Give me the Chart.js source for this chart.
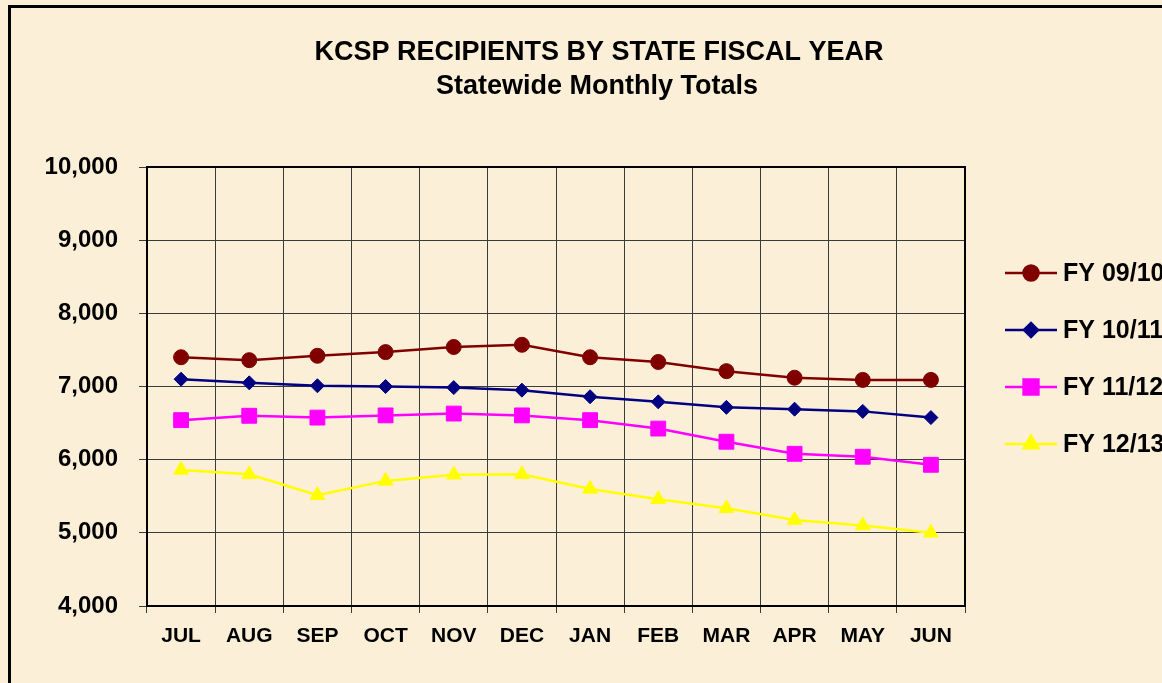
<!DOCTYPE html>
<html>
<head>
<meta charset="utf-8">
<script src="https://cdn.jsdelivr.net/npm/chart.js@4/dist/chart.umd.min.js"></script>
<style>
  html, body { margin: 0; padding: 0; width: 1162px; height: 683px; overflow: hidden; background: #fbefd8; }
  #frame { position: absolute; left: 8px; top: 5px; width: 1200px; height: 720px; border: 3px solid #000; box-sizing: border-box; }
  #c { position: absolute; left: 0; top: 0; }
</style>
</head>
<body>
<div id="frame"></div>
<canvas id="c" width="1162" height="683"></canvas>
<script>
const months = ['JUL', 'AUG', 'SEP', 'OCT', 'NOV', 'DEC', 'JAN', 'FEB', 'MAR', 'APR', 'MAY', 'JUN'];
const fy0910 = [7400, 7360, 7420, 7470, 7540, 7570, 7400, 7335, 7210, 7120, 7090, 7090];
const fy1011 = [7100, 7050, 7010, 7000, 6985, 6950, 6860, 6790, 6715, 6690, 6660, 6575];
const fy1112 = [6540, 6600, 6575, 6605, 6630, 6605, 6540, 6425, 6245, 6080, 6040, 5930];
const fy1213 = [5860, 5800, 5515, 5710, 5795, 5800, 5600, 5460, 5335, 5175, 5100, 5000];
const seriesNames = ['FY 09/10', 'FY 10/11', 'FY 11/12', 'FY 12/13'];
const titleLines = ['KCSP RECIPIENTS BY STATE FISCAL YEAR', 'Statewide Monthly Totals'];

const FONT = '"Liberation Sans", Arial, sans-serif';

function series(label, data, color, style, radius) {
    return {
        label, data,
        borderColor: color, backgroundColor: color,
        borderWidth: 2.5, tension: 0,
        pointStyle: style, pointRadius: radius, pointHoverRadius: radius,
        pointBorderWidth: 1, pointBackgroundColor: color, pointBorderColor: color
    };
}

// title text + plot frame + legend drawn by hand so the plot keeps its place
const decor = {
    id: 'decor',
    beforeDatasetsDraw(chart) {
        const { ctx, chartArea: a } = chart;
        ctx.save();
        ctx.strokeStyle = '#000';
        ctx.lineWidth = 2;
        ctx.strokeRect(a.left, a.top, a.right - a.left, a.bottom - a.top);
        ctx.restore();
    },
    afterDraw(chart) {
        const ctx = chart.ctx;
        ctx.save();
        ctx.fillStyle = '#000';
        ctx.textAlign = 'center';
        ctx.textBaseline = 'middle';
        ctx.font = 'bold 27px ' + FONT;
        ctx.fillText(titleLines[0], 599, 53);
        ctx.fillText(titleLines[1], 597, 87);

        // legend
        chart.data.datasets.forEach((ds, i) => {
            const y = 273 + i * 57;
            ctx.strokeStyle = ds.borderColor;
            ctx.lineWidth = 2.5;
            ctx.beginPath();
            ctx.moveTo(1005, y);
            ctx.lineTo(1057, y);
            ctx.stroke();
            ctx.fillStyle = ds.backgroundColor;
            if (Chart.helpers && Chart.helpers.drawPoint) {
                Chart.helpers.drawPoint(ctx, { pointStyle: ds.pointStyle, radius: ds.pointRadius, rotation: 0, borderWidth: 1 }, 1031, y);
            }
            ctx.fillStyle = '#000';
            ctx.textAlign = 'left';
            ctx.font = 'bold 25px ' + FONT;
            ctx.fillText(ds.label, 1063, y + 1);
        });
        ctx.restore();
    }
};

new Chart(document.getElementById('c'), {
    type: 'line',
    data: {
        labels: months,
        datasets: [
            series(seriesNames[0], fy0910, '#800000', 'circle', 7.5),
            series(seriesNames[1], fy1011, '#000080', 'rectRot', 7),
            series(seriesNames[2], fy1112, '#ff00ff', 'rect', 10.5),
            series(seriesNames[3], fy1213, '#ffff00', 'triangle', 8.5)
        ]
    },
    options: {
        responsive: false,
        animation: false,
        layout: { padding: { top: 167, left: 0, right: 197, bottom: 0 } },
        plugins: { legend: { display: false }, title: { display: false }, tooltip: { enabled: false } },
        scales: {
            x: {
                offset: true,
                grid: { offset: true, color: '#3a3a3a', lineWidth: 1, tickLength: 7, drawTicks: true },
                border: { color: '#000', width: 2 },
                ticks: { color: '#000', font: { family: FONT, size: 21, weight: 'bold' }, padding: 11, maxRotation: 0 },
                afterFit(scale) { scale.height = 77; }
            },
            y: {
                min: 4000, max: 10000,
                grid: { color: '#3a3a3a', lineWidth: 1, tickLength: 8 },
                border: { color: '#000', width: 2 },
                ticks: { stepSize: 1000, color: '#000', font: { family: FONT, size: 24, weight: 'bold' }, padding: 21 },
                afterFit(scale) { scale.width = 147; }
            }
        }
    },
    plugins: [decor]
});
</script>
</body>
</html>
